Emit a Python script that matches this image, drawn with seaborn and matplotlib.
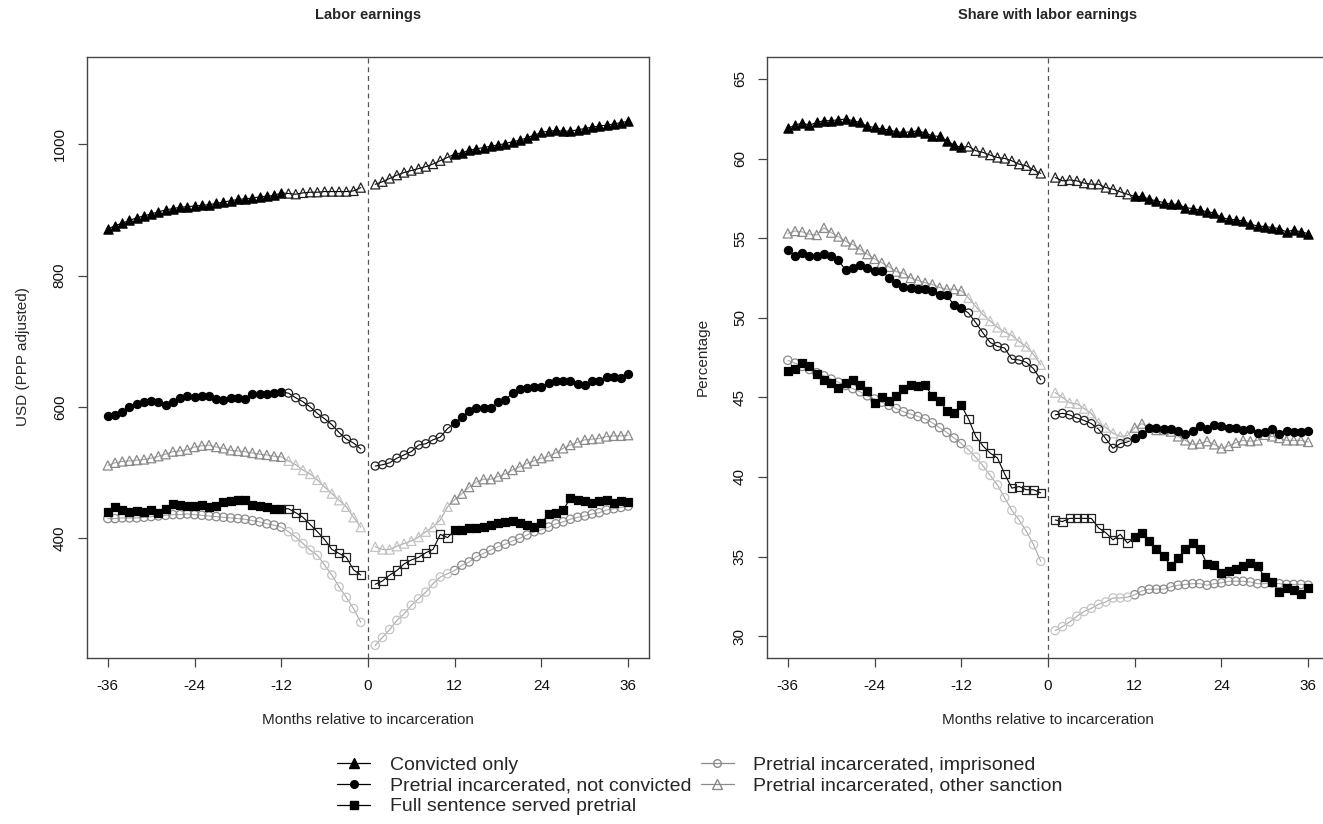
import numpy as np
import pandas as pd
import matplotlib
matplotlib.use("Agg")
import matplotlib.pyplot as plt
import seaborn as sns
from matplotlib.lines import Line2D

# ---------------- data ----------------
months_pre = list(range(-36, 0))
months_post = list(range(1, 37))
months = months_pre + months_post

series_names = [
    "Convicted only",
    "Pretrial incarcerated, not convicted",
    "Full sentence served pretrial",
    "Pretrial incarcerated, imprisoned",
    "Pretrial incarcerated, other sanction",
]

# Labor earnings, USD (PPP adjusted)
earn_convicted = [871, 876, 880, 884, 888, 891, 894, 897, 900, 902, 904, 905, 906, 907, 908,
                  910, 912, 914, 916, 917, 918, 920, 921, 922, 926,
                  925, 924, 926, 927, 927, 928, 928, 928, 928, 929, 934,
                  939, 943, 948, 953, 957, 960, 963, 966, 970, 975, 980,
                  985, 987, 991, 993, 995, 997, 999, 1001, 1004, 1006, 1010, 1014, 1018,
                  1020, 1021, 1020, 1020, 1022, 1024, 1026, 1028, 1029, 1031, 1033, 1035]
earn_notconv = [586, 588, 593, 600, 605, 608, 609, 607, 603, 608, 613, 616, 615, 616, 616,
                612, 611, 613, 613, 612, 620, 620, 620, 621, 623,
                621, 614, 608, 600, 590, 582, 573, 561, 551, 545, 536,
                510, 512, 515, 522, 527, 532, 542, 544, 550, 554, 567,
                575, 584, 594, 598, 598, 598, 607, 611, 621, 627, 629, 630, 631,
                636, 640, 640, 640, 635, 634, 639, 640, 646, 645, 644, 650]
earn_fullsent = [440, 448, 443, 440, 441, 440, 443, 439, 445, 452, 450, 449, 449, 450, 448,
                 449, 455, 457, 458, 459, 450, 449, 448, 445, 445,
                 445, 439, 432, 421, 410, 398, 383, 377, 371, 352, 344,
                 330, 335, 344, 351, 361, 367, 371, 378, 383, 406, 401,
                 412, 413, 415, 416, 417, 420, 423, 425, 426, 423, 420, 417, 423,
                 437, 439, 443, 461, 458, 457, 454, 457, 459, 454, 457, 455]
earn_imprisoned = [430, 430, 431, 431, 431, 432, 433, 434, 435, 436, 436, 437, 436, 435, 434,
                   433, 432, 431, 430, 429, 427, 425, 422, 420, 417,
                   410, 402, 392, 382, 374, 359, 344, 326, 310, 293, 272,
                   237, 249, 261, 275, 285, 298, 308, 318, 331, 341, 346,
                   351, 359, 364, 372, 377, 382, 387, 391, 396, 400, 405, 410, 413,
                   417, 422, 425, 429, 432, 434, 437, 439, 443, 445, 447, 449]
earn_other = [511, 515, 517, 518, 519, 520, 522, 525, 528, 532, 533, 535, 539, 541, 542,
              539, 537, 534, 533, 532, 530, 528, 527, 525, 524,
              518, 512, 504, 498, 489, 478, 468, 458, 448, 432, 417,
              387, 383, 383, 388, 392, 396, 402, 410, 417, 428, 448,
              459, 468, 478, 486, 490, 490, 494, 498, 504, 509, 514, 518, 522,
              525, 530, 537, 542, 546, 550, 551, 552, 555, 556, 556, 557]

# Share with labor earnings, percent
share_convicted = [61.90, 62.10, 62.23, 62.10, 62.27, 62.38, 62.38, 62.44, 62.48, 62.38, 62.27,
                   62.02, 61.96, 61.85, 61.81, 61.68, 61.64, 61.68, 61.75, 61.60, 61.43, 61.39,
                   61.12, 60.85, 60.70,
                   60.76, 60.49, 60.39, 60.22, 60.07, 60.01, 59.86, 59.65, 59.55, 59.29, 59.07,
                   58.81, 58.60, 58.66, 58.60, 58.46, 58.39, 58.39, 58.18, 58.08, 57.91, 57.76,
                   57.62, 57.62, 57.45, 57.34, 57.24, 57.13, 57.13, 56.92, 56.86, 56.77, 56.65,
                   56.60, 56.30, 56.19, 56.15, 56.08, 55.87, 55.77, 55.73, 55.67, 55.60, 55.39,
                   55.52, 55.39, 55.29]
share_notconv = [54.25, 53.90, 54.10, 53.90, 53.90, 54.00, 53.90, 53.60, 53.00, 53.15, 53.30,
                 53.10, 52.95, 52.95, 52.50, 52.20, 51.95, 51.90, 51.80, 51.80, 51.70, 51.40,
                 51.40, 50.80, 50.60,
                 50.30, 49.70, 49.05, 48.45, 48.20, 48.10, 47.40, 47.35, 47.20, 46.80, 46.10,
                 43.90, 44.00, 43.90, 43.70, 43.55, 43.35, 43.00, 42.40, 41.80, 42.10, 42.20,
                 42.45, 42.70, 43.05, 43.10, 43.00, 43.00, 42.90, 42.70, 42.90, 43.20, 43.00,
                 43.25, 43.20, 43.10, 43.05, 42.95, 43.00, 42.75, 42.85, 43.00, 42.70, 42.90,
                 42.85, 42.80, 42.90]
share_fullsent = [46.65, 46.80, 47.15, 46.95, 46.50, 46.10, 45.90, 45.60, 45.90, 46.10, 45.75,
                  45.40, 44.65, 45.00, 44.80, 45.10, 45.50, 45.75, 45.70, 45.75, 45.10, 44.80,
                  44.15, 44.05, 44.50,
                  43.65, 42.55, 41.95, 41.50, 41.20, 40.20, 39.30, 39.40, 39.20, 39.20, 39.00,
                  37.30, 37.20, 37.40, 37.40, 37.40, 37.40, 36.80, 36.50, 36.05, 36.40, 35.85,
                  36.20, 36.50, 35.95, 35.50, 35.05, 34.40, 34.90, 35.50, 35.85, 35.50, 34.55,
                  34.50, 34.00, 34.10, 34.25, 34.40, 34.60, 34.40, 33.70, 33.40, 32.80, 33.00,
                  32.90, 32.65, 33.00]
share_imprisoned = [47.33, 47.15, 46.95, 46.75, 46.55, 46.35, 46.15, 45.95, 45.75, 45.55, 45.35,
                    45.10, 44.90, 44.70, 44.50, 44.30, 44.10, 43.95, 43.80, 43.65, 43.40, 43.10,
                    42.80, 42.45, 42.10,
                    41.70, 41.25, 40.70, 40.10, 39.50, 38.70, 37.90, 37.30, 36.60, 35.75, 34.70,
                    30.35, 30.60, 30.90, 31.25, 31.55, 31.75, 32.00, 32.15, 32.40, 32.40, 32.45,
                    32.60, 32.85, 32.95, 32.95, 32.95, 33.10, 33.20, 33.25, 33.30, 33.30, 33.20,
                    33.30, 33.35, 33.45, 33.45, 33.45, 33.40, 33.30, 33.30, 33.35, 33.30, 33.25,
                    33.25, 33.25, 33.20]
share_other = [55.30, 55.45, 55.40, 55.25, 55.20, 55.65, 55.35, 55.10, 54.80, 54.60, 54.30,
               54.00, 53.70, 53.45, 53.20, 52.90, 52.80, 52.50, 52.35, 52.20, 52.10, 51.90,
               51.80, 51.80, 51.70,
               51.25, 50.70, 50.20, 49.80, 49.40, 49.10, 48.90, 48.50, 48.20, 47.70, 47.05,
               45.30, 45.00, 44.65, 44.60, 44.30, 44.00, 43.40, 43.10, 42.75, 42.55, 42.60,
               43.10, 43.35, 43.10, 42.95, 42.95, 42.85, 42.55, 42.30, 42.05, 42.10, 42.25,
               42.05, 41.80, 41.95, 42.15, 42.30, 42.25, 42.30, 42.65, 42.55, 42.45, 42.30,
               42.30, 42.30, 42.20]

earn_yticks = [400, 600, 800, 1000]
share_yticks = [30, 35, 40, 45, 50, 55, 60, 65]
x_ticks = [-36, -24, -12, 0, 12, 24, 36]

panel_titles = ["Labor earnings", "Share with labor earnings"]
panel_ylabels = ["USD (PPP adjusted)", "Percentage"]
x_label = "Months relative to incarceration"

# ---------------- styling ----------------
sns.set_style("ticks")
plt.rcParams["font.family"] = ["Liberation Sans", "DejaVu Sans"]

W, H = 1323, 824
fig = plt.figure(figsize=(W / 100, H / 100), dpi=100)

BOX_TOP, BOX_BOT = 57, 658
ax1 = fig.add_axes([87 / W, 1 - BOX_BOT / H, (649 - 87) / W, (BOX_BOT - BOX_TOP) / H])
ax2 = fig.add_axes([767 / W, 1 - BOX_BOT / H, (1329 - 767) / W, (BOX_BOT - BOX_TOP) / H])

GRAY_OUT = "#8a8a8a"
GRAY_IN = "#c4c4c4"
GRAY_LINE = "#a8a8a8"

styles = {
    series_names[0]: dict(marker="^", line="black", out_fc="black", out_ec="black", in_fc="none", in_ec="#222222", s=44),
    series_names[1]: dict(marker="o", line="black", out_fc="black", out_ec="black", in_fc="none", in_ec="#222222", s=34),
    series_names[2]: dict(marker="s", line="black", out_fc="black", out_ec="black", in_fc="none", in_ec="#222222", s=34),
    series_names[3]: dict(marker="o", line=GRAY_LINE, out_fc="none", out_ec=GRAY_OUT, in_fc="none", in_ec=GRAY_IN, s=36),
    series_names[4]: dict(marker="^", line=GRAY_LINE, out_fc="none", out_ec=GRAY_OUT, in_fc="none", in_ec=GRAY_IN, s=44),
}


def build_df(values_list):
    rows = []
    for name, vals in zip(series_names, values_list):
        for m, v in zip(months, vals):
            rows.append(dict(series=name, month=m, value=v,
                             period="pre" if m < 0 else "post",
                             window=abs(m) <= 11))
    return pd.DataFrame(rows)


df_earn = build_df([earn_convicted, earn_notconv, earn_fullsent, earn_imprisoned, earn_other])
df_share = build_df([share_convicted, share_notconv, share_fullsent, share_imprisoned, share_other])

draw_order = [series_names[3], series_names[4], series_names[2], series_names[1], series_names[0]]


def draw_panel(ax, df):
    ax.axvline(0, color="#555555", lw=0.9, ls=(0, (4, 3)), zorder=1)
    for name in draw_order:
        st = styles[name]
        sub = df[df.series == name]
        for per in ["pre", "post"]:
            seg = sub[sub.period == per]
            sns.lineplot(data=seg, x="month", y="value", ax=ax, color=st["line"], lw=0.8,
                         estimator=None, sort=True, legend=False, zorder=2)
            out = seg[~seg.window]
            inn = seg[seg.window]
            sns.scatterplot(data=out, x="month", y="value", ax=ax, marker=st["marker"], s=st["s"],
                            facecolor=st["out_fc"], edgecolor=st["out_ec"], linewidth=0.9,
                            legend=False, zorder=3)
            sns.scatterplot(data=inn, x="month", y="value", ax=ax, marker=st["marker"], s=st["s"],
                            facecolor=st["in_fc"], edgecolor=st["in_ec"], linewidth=0.9,
                            legend=False, zorder=3)
    ax.set_xlim(-38.88, 38.88)
    ax.set_xticks(x_ticks)
    ax.set_xticklabels([str(t) for t in x_ticks])
    ax.set_xlabel("")
    ax.set_ylabel("")
    for sp in ax.spines.values():
        sp.set_visible(True)
        sp.set_color("#444444")
        sp.set_linewidth(1.0)
    ax.tick_params(axis="both", direction="out", length=6.5, width=0.9, color="#444444",
                   labelsize=11, labelcolor="#111111")
    ax.tick_params(axis="x", pad=8.5)
    ax.tick_params(axis="y", pad=8)


draw_panel(ax1, df_earn)
ax1.set_ylim(217.7, 1132.9)
ax1.set_yticks(earn_yticks)
ax1.set_yticklabels([str(t) for t in earn_yticks], rotation=90, va="center")

draw_panel(ax2, df_share)
ax2.set_ylim(28.63, 66.38)
ax2.set_yticks(share_yticks)
ax2.set_yticklabels([str(t) for t in share_yticks], rotation=90, va="center")

# titles and labels
fig.text(368 / W, 1 - 15 / H, panel_titles[0], ha="center", va="center", fontsize=10.5, fontweight="bold")
fig.text(1048 / W, 1 - 15 / H, panel_titles[1], ha="center", va="center", fontsize=10.5, fontweight="bold")
fig.text(23 / W, 1 - 357 / H, panel_ylabels[0], ha="center", va="center", rotation=90, fontsize=11)
fig.text(703 / W, 1 - 357 / H, panel_ylabels[1], ha="center", va="center", rotation=90, fontsize=11)
fig.text(368 / W, 1 - 720 / H, x_label, ha="center", va="center", fontsize=11)
fig.text(1048 / W, 1 - 720 / H, x_label, ha="center", va="center", fontsize=11)

# legend
handles = [
    Line2D([], [], color="black", lw=0.9, marker="^", markersize=6.5, markerfacecolor="black", markeredgecolor="black"),
    Line2D([], [], color="black", lw=0.9, marker="o", markersize=5.5, markerfacecolor="black", markeredgecolor="black"),
    Line2D([], [], color="black", lw=0.9, marker="s", markersize=5.5, markerfacecolor="black", markeredgecolor="black"),
    Line2D([], [], color=GRAY_OUT, lw=0.9, marker="o", markersize=5.5, markerfacecolor="none", markeredgecolor=GRAY_OUT),
    Line2D([], [], color=GRAY_OUT, lw=0.9, marker="^", markersize=6.5, markerfacecolor="none", markeredgecolor=GRAY_OUT),
]
fig.legend(handles, series_names, ncol=2, loc="center left",
           bbox_to_anchor=(337 / W, 1 - 786 / H), frameon=False, fontsize=14,
           handlelength=1.7, handletextpad=1.0, columnspacing=0.5, labelspacing=0.15,
           borderpad=0, borderaxespad=0)

fig.savefig("out.png", dpi=100)
